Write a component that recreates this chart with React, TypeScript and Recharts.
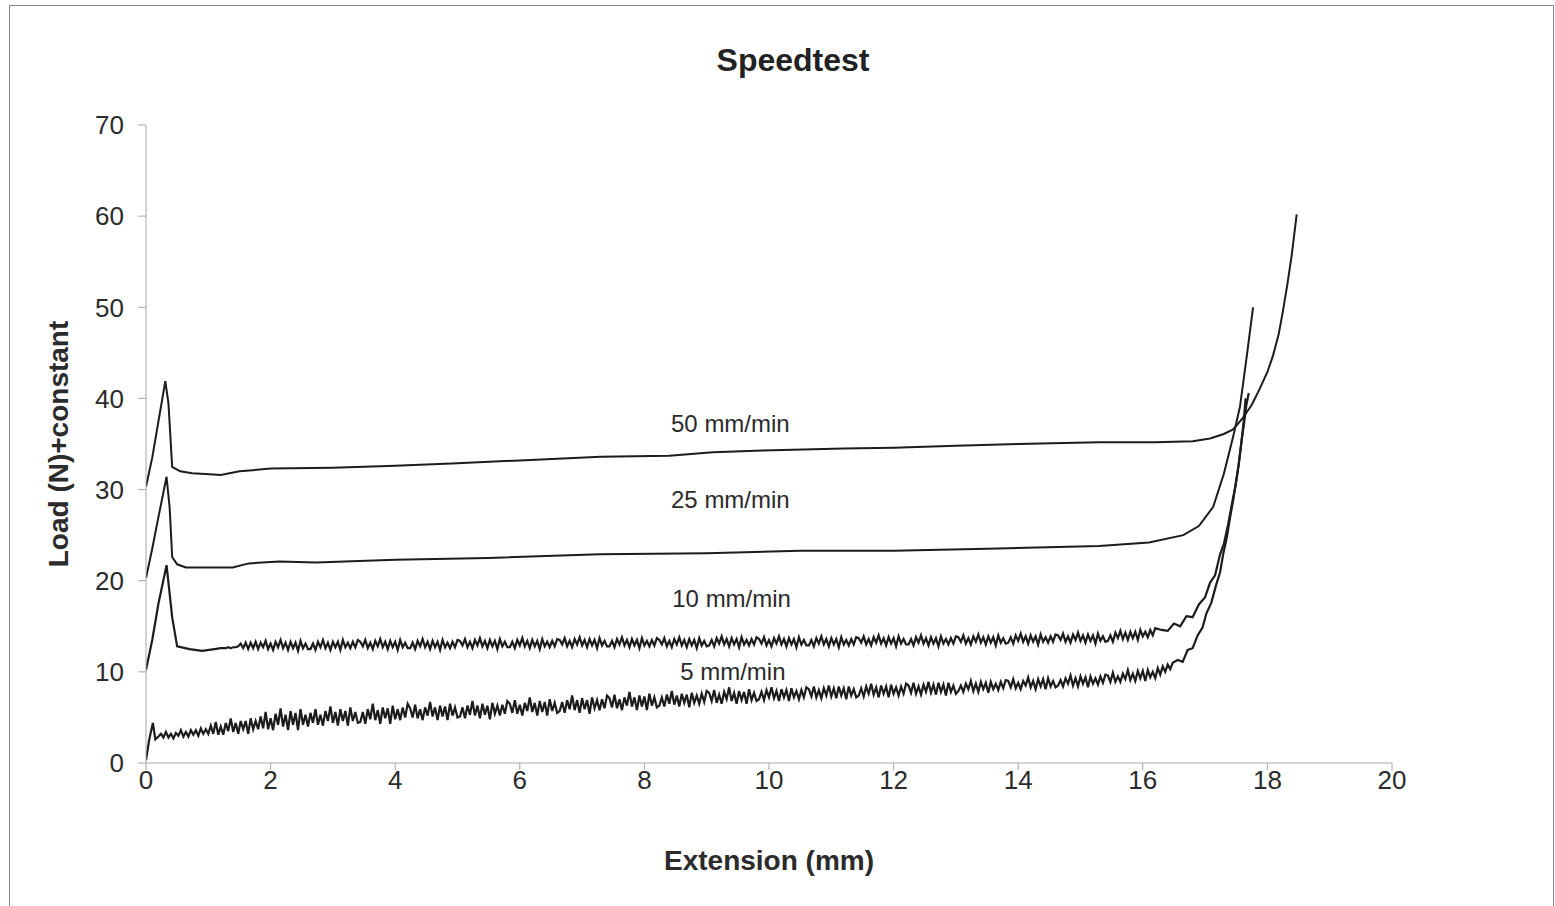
import React from 'react';
import { LineChart, Line, XAxis, YAxis, ReferenceDot } from 'recharts';

// ---------- axis ticks ----------
const xTicks = [0, 2, 4, 6, 8, 10, 12, 14, 16, 18, 20];
const yTicks = [0, 10, 20, 30, 40, 50, 60, 70];

// ---------- 50 mm/min ----------
const ext50 = [0, 0.1, 0.2, 0.31, 0.36, 0.42, 0.55, 0.74, 0.96, 1.2, 1.5, 2.0, 3.0, 4.0, 5.0, 6.0, 7.3, 8.4, 9.1, 9.9, 11.2, 12, 13, 14, 15.3, 16.2, 16.8, 17.08, 17.3, 17.45, 17.6, 17.75, 17.88, 18.0, 18.09, 18.18, 18.25, 18.32, 18.39, 18.47];
const load50 = [30.3, 33.5, 37.5, 41.9, 39.5, 32.5, 32.0, 31.8, 31.7, 31.6, 32.0, 32.3, 32.4, 32.6, 32.9, 33.2, 33.6, 33.7, 34.1, 34.3, 34.5, 34.6, 34.8, 35.0, 35.2, 35.2, 35.3, 35.6, 36.1, 36.6, 37.8, 39.3, 41.1, 42.9, 44.7, 47.0, 49.6, 52.5, 55.7, 60.2];

// ---------- 25 mm/min ----------
const ext25 = [0, 0.1, 0.2, 0.33, 0.38, 0.42, 0.5, 0.64, 1.0, 1.39, 1.65, 2.14, 2.73, 4, 5.5, 7.28, 9, 10.5, 12, 13.5, 15.3, 16.1, 16.65, 16.9, 17.13, 17.3, 17.45, 17.56, 17.67, 17.77];
const load25 = [20.3, 23.5, 27.0, 31.4, 28.0, 22.6, 21.8, 21.45, 21.45, 21.45, 21.9, 22.1, 22.0, 22.3, 22.5, 22.9, 23.0, 23.3, 23.3, 23.5, 23.8, 24.2, 25.0, 26.0, 28.1, 31.7, 35.8, 39.1, 44.7, 50.0];

// ---------- shared sampling grid (mm) for the noisy segments ----------
const extGrid = [
  0.24, 0.28, 0.32, 0.36, 0.40, 0.44, 0.48, 0.52, 0.56, 0.60, 0.64, 0.68, 0.72, 0.76, 0.80, 0.84, 0.88, 0.92, 0.96, 1.00,
  1.04, 1.08, 1.12, 1.16, 1.20, 1.24, 1.28, 1.32, 1.36, 1.40, 1.44, 1.48, 1.52, 1.56, 1.60, 1.64, 1.68, 1.72, 1.76, 1.80,
  1.84, 1.88, 1.92, 1.96, 2.00, 2.04, 2.08, 2.12, 2.16, 2.20, 2.24, 2.28, 2.32, 2.36, 2.40, 2.44, 2.48, 2.52, 2.56, 2.60,
  2.64, 2.68, 2.72, 2.76, 2.80, 2.84, 2.88, 2.92, 2.96, 3.00, 3.04, 3.08, 3.12, 3.16, 3.20, 3.24, 3.28, 3.32, 3.36, 3.40,
  3.44, 3.48, 3.52, 3.56, 3.60, 3.64, 3.68, 3.72, 3.76, 3.80, 3.84, 3.88, 3.92, 3.96, 4.00, 4.04, 4.08, 4.12, 4.16, 4.20,
  4.24, 4.28, 4.32, 4.36, 4.40, 4.44, 4.48, 4.52, 4.56, 4.60, 4.64, 4.68, 4.72, 4.76, 4.80, 4.84, 4.88, 4.92, 4.96, 5.00,
  5.04, 5.08, 5.12, 5.16, 5.20, 5.24, 5.28, 5.32, 5.36, 5.40, 5.44, 5.48, 5.52, 5.56, 5.60, 5.64, 5.68, 5.72, 5.76, 5.80,
  5.84, 5.88, 5.92, 5.96, 6.00, 6.04, 6.08, 6.12, 6.16, 6.20, 6.24, 6.28, 6.32, 6.36, 6.40, 6.44, 6.48, 6.52, 6.56, 6.60,
  6.64, 6.68, 6.72, 6.76, 6.80, 6.84, 6.88, 6.92, 6.96, 7.00, 7.04, 7.08, 7.12, 7.16, 7.20, 7.24, 7.28, 7.32, 7.36, 7.40,
  7.44, 7.48, 7.52, 7.56, 7.60, 7.64, 7.68, 7.72, 7.76, 7.80, 7.84, 7.88, 7.92, 7.96, 8.00, 8.04, 8.08, 8.12, 8.16, 8.20,
  8.24, 8.28, 8.32, 8.36, 8.40, 8.44, 8.48, 8.52, 8.56, 8.60, 8.64, 8.68, 8.72, 8.76, 8.80, 8.84, 8.88, 8.92, 8.96, 9.00,
  9.04, 9.08, 9.12, 9.16, 9.20, 9.24, 9.28, 9.32, 9.36, 9.40, 9.44, 9.48, 9.52, 9.56, 9.60, 9.64, 9.68, 9.72, 9.76, 9.80,
  9.84, 9.88, 9.92, 9.96, 10.00, 10.04, 10.08, 10.12, 10.16, 10.20, 10.24, 10.28, 10.32, 10.36, 10.40, 10.44, 10.48, 10.52, 10.56, 10.60,
  10.64, 10.68, 10.72, 10.76, 10.80, 10.84, 10.88, 10.92, 10.96, 11.00, 11.04, 11.08, 11.12, 11.16, 11.20, 11.24, 11.28, 11.32, 11.36, 11.40,
  11.44, 11.48, 11.52, 11.56, 11.60, 11.64, 11.68, 11.72, 11.76, 11.80, 11.84, 11.88, 11.92, 11.96, 12.00, 12.04, 12.08, 12.12, 12.16, 12.20,
  12.24, 12.28, 12.32, 12.36, 12.40, 12.44, 12.48, 12.52, 12.56, 12.60, 12.64, 12.68, 12.72, 12.76, 12.80, 12.84, 12.88, 12.92, 12.96, 13.00,
  13.04, 13.08, 13.12, 13.16, 13.20, 13.24, 13.28, 13.32, 13.36, 13.40, 13.44, 13.48, 13.52, 13.56, 13.60, 13.64, 13.68, 13.72, 13.76, 13.80,
  13.84, 13.88, 13.92, 13.96, 14.00, 14.04, 14.08, 14.12, 14.16, 14.20, 14.24, 14.28, 14.32, 14.36, 14.40, 14.44, 14.48, 14.52, 14.56, 14.60,
  14.64, 14.68, 14.72, 14.76, 14.80, 14.84, 14.88, 14.92, 14.96, 15.00, 15.04, 15.08, 15.12, 15.16, 15.20, 15.24, 15.28, 15.32, 15.36, 15.40,
  15.44, 15.48, 15.52, 15.56, 15.60, 15.64, 15.68, 15.72, 15.76, 15.80, 15.84, 15.88, 15.92, 15.96, 16.00, 16.04, 16.08, 16.12, 16.16, 16.20,
  16.24, 16.28, 16.32, 16.36, 16.40, 16.44, 16.48,
];

// ---------- 10 mm/min ----------
const ext10Head = [0, 0.1, 0.2, 0.33, 0.42, 0.5, 0.7, 0.9, 1.1];
const load10Head = [10.2, 13.5, 17.5, 21.7, 16.0, 12.8, 12.5, 12.3, 12.5];
const load10GridStart = 24; // first noisy sample sits at extGrid[24] = 1.20 mm
const load10Noise = [
  12.6, 12.6, 12.6, 12.7, 12.6, 12.7, 12.7, 12.8, 13.1, 12.6, 13.2, 12.5, 13.2, 12.6, 13.3, 12.5,
  13.2, 12.7, 13.4, 12.5, 13.1, 12.4, 13.3, 12.7, 13.5, 12.6, 13.2, 12.4, 13.3, 12.6, 13.2, 12.3, 13.4, 12.6, 13.1, 12.5,
  12.5, 13.1, 12.4, 13.3, 12.7, 13.5, 12.6, 13.2, 12.4, 13.3, 12.7, 13.3, 12.4, 13.5, 12.7, 13.2, 12.6, 13.3, 12.7, 13.5,
  13.3, 12.8, 13.5, 12.6, 13.2, 12.5, 13.4, 12.8, 13.6, 12.7, 13.3, 12.5, 13.4, 12.7, 13.3, 12.4, 13.5, 12.7, 13.2, 12.6,
  12.6, 13.2, 12.5, 13.4, 12.8, 13.6, 12.7, 13.3, 12.5, 13.4, 12.7, 13.3, 12.4, 13.5, 12.7, 13.2, 12.6, 13.3, 12.7, 13.5,
  13.4, 12.9, 13.6, 12.7, 13.3, 12.6, 13.5, 12.9, 13.7, 12.8, 13.4, 12.6, 13.5, 12.8, 13.4, 12.5, 13.6, 12.8, 13.3, 12.7,
  12.7, 13.3, 12.6, 13.5, 12.9, 13.7, 12.8, 13.4, 12.6, 13.5, 12.8, 13.4, 12.5, 13.6, 12.8, 13.3, 12.7, 13.4, 12.8, 13.6,
  13.5, 13.0, 13.7, 12.8, 13.4, 12.7, 13.6, 13.0, 13.8, 12.9, 13.5, 12.7, 13.6, 12.9, 13.5, 12.6, 13.7, 12.9, 13.4, 12.8,
  12.8, 13.4, 12.7, 13.6, 13.0, 13.8, 12.9, 13.5, 12.7, 13.6, 12.9, 13.5, 12.6, 13.7, 12.9, 13.4, 12.8, 13.5, 12.9, 13.7,
  13.5, 13.0, 13.7, 12.8, 13.4, 12.7, 13.6, 13.0, 13.8, 12.9, 13.5, 12.7, 13.6, 12.9, 13.5, 12.6, 13.7, 12.9, 13.4, 12.8,
  12.9, 13.5, 12.8, 13.7, 13.1, 13.9, 13.0, 13.6, 12.8, 13.7, 13.0, 13.6, 12.7, 13.8, 13.0, 13.5, 12.9, 13.6, 13.0, 13.8,
  13.6, 13.1, 13.8, 12.9, 13.5, 12.8, 13.7, 13.1, 13.9, 13.0, 13.6, 12.8, 13.7, 13.0, 13.6, 12.7, 13.8, 13.0, 13.5, 12.9,
  12.9, 13.5, 12.8, 13.7, 13.1, 13.9, 13.0, 13.6, 12.8, 13.7, 13.0, 13.6, 12.7, 13.8, 13.0, 13.5, 12.9, 13.6, 13.0, 13.8,
  13.7, 13.2, 13.9, 13.0, 13.6, 12.9, 13.8, 13.2, 14.0, 13.1, 13.7, 12.9, 13.8, 13.1, 13.7, 12.8, 13.9, 13.1, 13.6, 13.0,
  13.0, 13.6, 12.9, 13.8, 13.2, 14.0, 13.1, 13.7, 12.9, 13.8, 13.1, 13.7, 12.8, 13.9, 13.1, 13.6, 13.0, 13.7, 13.1, 13.9,
  13.8, 13.3, 14.0, 13.1, 13.7, 13.0, 13.9, 13.3, 14.1, 13.2, 13.8, 13.0, 13.9, 13.2, 13.8, 12.9, 14.0, 13.2, 13.7, 13.1,
  13.2, 13.8, 13.1, 14.0, 13.4, 14.2, 13.3, 13.9, 13.1, 14.0, 13.3, 13.9, 13.0, 14.1, 13.3, 13.8, 13.2, 13.9, 13.3, 14.1,
  14.0, 13.5, 14.2, 13.3, 13.9, 13.2, 14.1, 13.5, 14.3, 13.4, 14.0, 13.2, 14.1, 13.4, 14.0, 13.1, 14.2, 13.4, 13.9, 13.3,
  13.4, 14.0, 13.3, 14.3, 13.7, 14.5, 13.6, 14.3, 13.5, 14.4, 13.7, 14.4, 13.5, 14.6, 13.9, 14.4, 13.8, 14.6, 14.0, 14.8,
];
const ext10Tail = [16.3, 16.4, 16.5, 16.6, 16.7, 16.8, 16.9, 17.0, 17.08, 17.16, 17.24, 17.3, 17.37, 17.43, 17.49, 17.54, 17.58, 17.62, 17.65];
const load10Tail = [14.6, 14.5, 15.3, 15.0, 16.1, 16.0, 17.4, 18.2, 19.8, 20.6, 22.9, 24.0, 26.2, 28.4, 30.5, 32.8, 35.0, 37.5, 40.0];

// ---------- 5 mm/min ----------
const ext5Head = [0, 0.05, 0.11, 0.15, 0.2];
const load5Head = [0.3, 2.5, 4.4, 2.6, 2.9];
const load5Noise = [
  3.2, 2.8, 3.4, 2.8, 3.2, 2.7, 3.3, 3.0, 3.6, 2.9, 3.4, 2.9, 3.6, 3.1, 3.6, 3.0, 3.8, 3.2, 3.7, 3.2,
  4.1, 3.2, 4.5, 3.1, 4.0, 3.1, 4.4, 3.5, 4.9, 3.4, 4.4, 3.2, 4.6, 3.7, 4.6, 3.2, 4.9, 3.7, 4.6, 3.7,
  5.1, 3.8, 5.6, 3.7, 4.9, 3.6, 5.4, 4.2, 6.0, 4.0, 5.3, 3.6, 5.7, 4.2, 5.5, 3.6, 5.9, 4.2, 5.3, 4.0,
  5.5, 4.4, 5.9, 4.2, 5.3, 4.1, 5.7, 4.6, 6.2, 4.4, 5.6, 4.1, 5.9, 4.6, 5.7, 4.1, 6.1, 4.6, 5.6, 4.4,
  4.5, 5.6, 4.3, 5.9, 4.8, 6.5, 4.7, 5.8, 4.3, 6.1, 4.9, 6.0, 4.3, 6.3, 4.8, 5.9, 4.7, 6.1, 5.0, 6.5,
  6.0, 5.0, 6.4, 4.9, 5.9, 4.7, 6.1, 5.2, 6.7, 5.1, 6.1, 4.7, 6.3, 5.1, 6.2, 4.7, 6.5, 5.2, 6.1, 5.0,
  5.1, 6.1, 4.9, 6.3, 5.3, 6.8, 5.2, 6.3, 4.9, 6.5, 5.3, 6.3, 4.8, 6.6, 5.4, 6.3, 5.2, 6.4, 5.4, 6.8,
  6.5, 5.5, 6.9, 5.4, 6.4, 5.2, 6.6, 5.7, 7.2, 5.6, 6.6, 5.2, 6.8, 5.6, 6.7, 5.2, 7.0, 5.7, 6.6, 5.5,
  5.7, 6.7, 5.5, 6.9, 5.9, 7.4, 5.8, 6.9, 5.5, 7.1, 5.9, 6.9, 5.4, 7.2, 6.0, 6.9, 5.8, 7.0, 6.0, 7.4,
  7.1, 6.1, 7.5, 6.0, 7.0, 5.8, 7.2, 6.3, 7.8, 6.2, 7.2, 5.8, 7.4, 6.2, 7.3, 5.8, 7.6, 6.3, 7.2, 6.1,
  6.3, 7.2, 6.2, 7.5, 6.5, 7.9, 6.4, 7.4, 6.2, 7.6, 6.6, 7.5, 6.1, 7.7, 6.6, 7.4, 6.5, 7.6, 6.7, 7.9,
  7.7, 6.8, 8.0, 6.6, 7.5, 6.5, 7.8, 7.0, 8.3, 6.8, 7.7, 6.5, 7.9, 6.9, 7.8, 6.5, 8.1, 6.9, 7.7, 6.8,
  7.0, 7.8, 6.9, 8.0, 7.2, 8.3, 7.1, 7.9, 6.8, 8.1, 7.2, 8.0, 6.8, 8.2, 7.2, 7.9, 7.0, 8.0, 7.2, 8.3,
  8.1, 7.3, 8.4, 7.2, 8.0, 7.1, 8.2, 7.4, 8.5, 7.3, 8.2, 7.1, 8.4, 7.4, 8.2, 7.0, 8.4, 7.4, 8.1, 7.2,
  7.4, 8.2, 7.3, 8.4, 7.6, 8.7, 7.5, 8.3, 7.2, 8.5, 7.6, 8.4, 7.2, 8.6, 7.6, 8.3, 7.4, 8.4, 7.6, 8.7,
  8.5, 7.7, 8.8, 7.6, 8.4, 7.5, 8.6, 7.8, 8.9, 7.7, 8.6, 7.5, 8.8, 7.8, 8.6, 7.4, 8.8, 7.8, 8.5, 7.6,
  7.9, 8.5, 7.8, 8.7, 8.1, 9.0, 7.9, 8.7, 7.8, 8.9, 8.1, 8.8, 7.7, 8.9, 8.1, 8.7, 8.0, 8.9, 8.2, 9.1,
  9.0, 8.3, 9.2, 8.2, 8.8, 8.1, 9.0, 8.5, 9.4, 8.3, 9.0, 8.1, 9.2, 8.4, 9.2, 8.1, 9.3, 8.4, 9.0, 8.3,
  8.5, 9.1, 8.4, 9.3, 8.7, 9.6, 8.5, 9.3, 8.4, 9.5, 8.7, 9.4, 8.3, 9.5, 8.7, 9.3, 8.6, 9.5, 8.8, 9.7,
  9.6, 8.9, 9.9, 8.9, 9.5, 8.9, 9.8, 9.2, 10.2, 9.1, 9.8, 9.0, 10.1, 9.3, 10.1, 9.0, 10.2, 9.4, 10.0, 9.3,
  10.4, 9.7, 10.6, 10.0, 10.8, 10.3, 11.0,
];
const ext5Tail = [16.56, 16.64, 16.72, 16.8, 16.88, 16.96, 17.02, 17.1, 17.18, 17.24, 17.29, 17.35, 17.4, 17.45, 17.5, 17.54, 17.58, 17.62, 17.66, 17.7];
const load5Tail = [11.3, 11.1, 12.4, 12.6, 14.0, 14.9, 16.4, 17.6, 19.6, 20.9, 22.9, 24.8, 26.9, 28.8, 31.0, 32.8, 35.1, 37.0, 39.2, 40.6];

// ---------- in-plot labels ----------
const speedLabels = ['50 mm/min', '25 mm/min', '10 mm/min', '5 mm/min'];
const labelExt = [9.38, 9.38, 9.4, 9.42];
const labelLoad = [37.3, 28.9, 18.0, 10.0];

const pts = (xs: number[], ys: number[]) => xs.map((x, i) => ({ x, y: ys[i] }));

const series50 = pts(ext50, load50);
const series25 = pts(ext25, load25);
const series10 = [
  ...pts(ext10Head, load10Head),
  ...pts(extGrid.slice(load10GridStart, load10GridStart + load10Noise.length), load10Noise),
  ...pts(ext10Tail, load10Tail),
];
const series5 = [
  ...pts(ext5Head, load5Head),
  ...pts(extGrid.slice(0, load5Noise.length), load5Noise),
  ...pts(ext5Tail, load5Tail),
];

const FONT = 'Arial, "Liberation Sans", Helvetica, sans-serif';
const AXIS = '#a6a6a6';
const INK = '#1c1c1c';
const TXT = '#2b2b2b';

export default function App() {
  return (
    <div
      style={{
        position: 'fixed',
        left: 0,
        top: 0,
        width: 1555,
        height: 906,
        overflow: 'hidden',
        background: '#fff',
      }}
    >
      <div
        style={{
          position: 'absolute',
          left: 9,
          top: 5,
          width: 1545,
          height: 940,
          border: '1.5px solid #8a8a8a',
          boxSizing: 'border-box',
        }}
      />
      <div
        style={{
          position: 'absolute',
          left: 593,
          top: 44,
          width: 400,
          textAlign: 'center',
          fontFamily: FONT,
          fontWeight: 'bold',
          fontSize: 32,
          lineHeight: '32px',
          color: '#222',
        }}
      >
        Speedtest
      </div>
      <div style={{ position: 'absolute', left: 0, top: 0 }}>
        <LineChart
          width={1555}
          height={906}
          margin={{ top: 125, right: 163, bottom: 83, left: 46 }}
        >
          <XAxis
            type="number"
            dataKey="x"
            domain={[0, 20]}
            ticks={xTicks}
            interval={0}
            allowDataOverflow
            stroke={AXIS}
            tickSize={7}
            tickMargin={1}
            height={60}
            tick={{ fill: TXT, fontSize: 26, fontFamily: FONT }}
            label={{
              value: 'Extension (mm)',
              position: 'bottom',
              offset: 27,
              style: { fill: TXT, fontSize: 28, fontWeight: 'bold', fontFamily: FONT },
            }}
          />
          <YAxis
            type="number"
            dataKey="y"
            domain={[0, 70]}
            ticks={yTicks}
            interval={0}
            allowDataOverflow
            stroke={AXIS}
            tickSize={8}
            tickMargin={14}
            width={100}
            tick={{ fill: TXT, fontSize: 26, fontFamily: FONT }}
            label={{
              value: 'Load (N)+constant',
              angle: -90,
              position: 'insideLeft',
              offset: 12,
              style: { textAnchor: 'middle', fill: TXT, fontSize: 28, fontWeight: 'bold', fontFamily: FONT },
            }}
          />
          <Line data={series50} dataKey="y" type="linear" stroke={INK} strokeWidth={2} dot={false} isAnimationActive={false} />
          <Line data={series25} dataKey="y" type="linear" stroke={INK} strokeWidth={2} dot={false} isAnimationActive={false} />
          <Line data={series10} dataKey="y" type="linear" stroke={INK} strokeWidth={2.2} dot={false} isAnimationActive={false} />
          <Line data={series5} dataKey="y" type="linear" stroke={INK} strokeWidth={2.2} dot={false} isAnimationActive={false} />
          {speedLabels.map((s, i) => (
            <ReferenceDot
              key={s}
              x={labelExt[i]}
              y={labelLoad[i]}
              r={0}
              fill="none"
              stroke="none"
              label={{ value: s, position: 'center', fill: TXT, fontSize: 24, fontFamily: FONT }}
            />
          ))}
        </LineChart>
      </div>
    </div>
  );
}
